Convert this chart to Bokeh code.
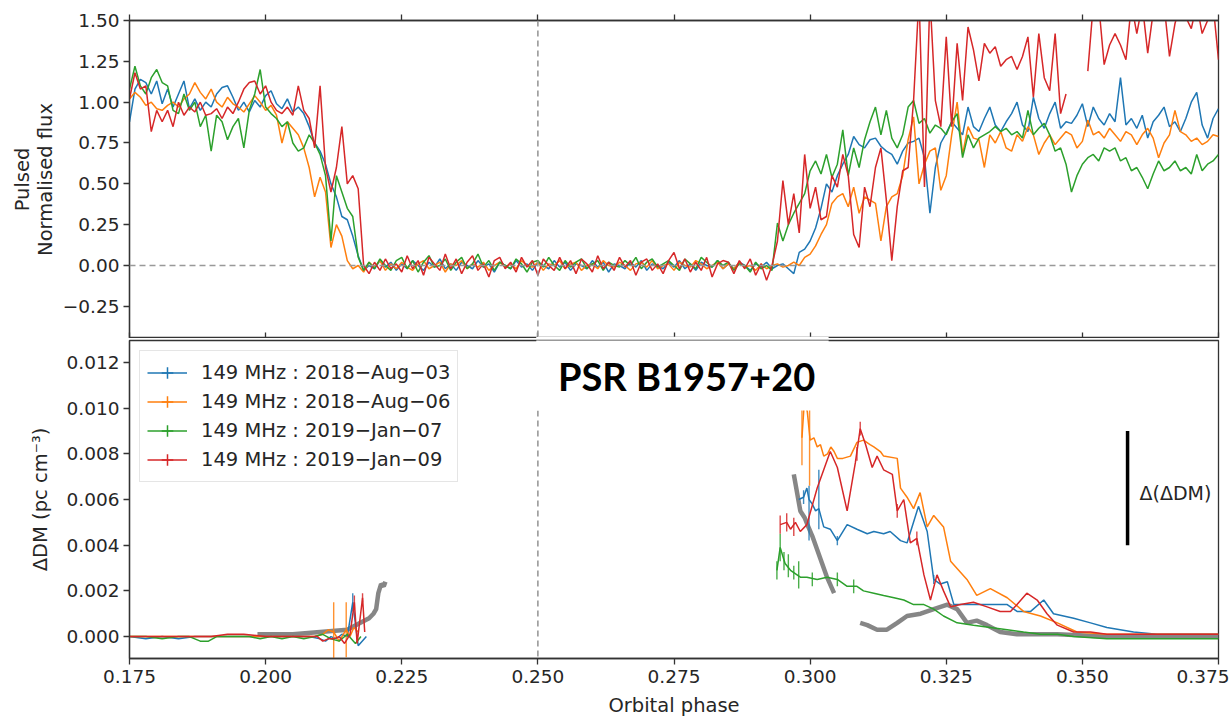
import math
import numpy as np
from bokeh.plotting import figure
from bokeh.layouts import column
from bokeh.models import (Range1d, Span, Label, FixedTicker, LinearAxis,
                          Legend, LegendItem, BoxAnnotation)
from bokeh.embed import file_html
from bokeh.resources import INLINE

nan = float("nan")

# ---------------- data ----------------
PHASE_START = 0.175
PHASE_STEP = 0.001

flux_blue = [
    0.88, 1.08, 1.14, 1.12, 1.05, 1.13, 0.99, 1.08, 0.97, 1.05,
    1.13, 0.96, 1.02, 0.95, 1.00, 0.97, 1.05, 1.09, 1.10, 1.03,
    0.95, 1.00, 0.94, 1.01, 0.97, 1.04, 1.07, 0.99, 0.96, 1.02,
    0.94, 0.97, 0.93, 0.85, 0.75, 0.70, 0.62, 0.50, 0.42, 0.30,
    0.28, 0.18, 0.06, -0.03, 0.00, -0.02, 0.03, -0.01, 0.02, -0.03,
    0.01, -0.02, 0.03, 0.00, -0.03, 0.02, -0.01, 0.04, -0.02, 0.01,
    -0.03, 0.02, 0.00, -0.02, 0.03, -0.01, 0.01, -0.04, 0.02, 0.00,
    -0.02, 0.03, -0.01, 0.01, -0.03, 0.02, 0.00, -0.02, 0.03, -0.01,
    0.02, -0.03, 0.01, 0.00, -0.02, 0.03, -0.01, 0.02, -0.04, 0.01,
    0.00, -0.02, 0.02, -0.01, 0.03, -0.03, 0.01, 0.00, -0.02, 0.02,
    -0.01, 0.03, -0.02, 0.01, -0.03, 0.02, 0.00, -0.01, 0.03, -0.02,
    0.01, -0.02, 0.02, 0.00, -0.03, 0.01, -0.01, 0.02, -0.02, 0.00,
    0.01, -0.02, -0.05, 0.08, 0.10, 0.15, 0.23, 0.35, 0.50, 0.45,
    0.55, 0.62, 0.68, 0.79, 0.74, 0.72, 0.77, 0.78, 0.73, 0.70,
    0.68, 0.62, 0.70, 0.75, 0.76, 0.78, 0.66, 0.32, 0.60, 0.75,
    0.81, 0.88, 0.84, 0.80, 0.97, 0.85, 0.82, 0.90, 0.97, 0.86,
    0.82, 0.88, 0.93, 1.00, 0.86, 0.82, 1.03, 0.90, 0.84, 0.93,
    1.00, 0.84, 0.88, 0.87, 0.92, 0.99, 0.85, 0.97, 0.90, 0.86,
    0.93, 0.88, 1.15, 0.86, 0.90, 0.84, 0.92, 0.78, 0.88, 0.92,
    0.97, 0.85, 0.88, 0.82, 0.90, 1.00, 1.06, 0.86, 0.78, 0.90,
    0.96]

flux_orange = [
    1.02, 1.06, 1.03, 0.98, 1.00, 0.96, 0.95, 0.98, 1.00, 0.97,
    1.02, 1.05, 1.12, 1.06, 1.02, 1.08, 1.00, 0.97, 1.03, 0.99,
    0.97, 0.94, 0.99, 1.04, 1.00, 0.95, 0.98, 0.92, 0.75, 0.88,
    0.84, 0.80, 0.72, 0.60, 0.42, 0.54, 0.45, 0.11, 0.25, 0.18,
    0.03, -0.02, 0.00, -0.04, 0.02, -0.01, 0.03, -0.03, 0.01, -0.02,
    0.02, -0.01, -0.03, 0.01, 0.03, -0.02, 0.00, 0.02, -0.04, 0.01,
    0.00, 0.03, -0.02, 0.01, -0.01, 0.02, -0.03, 0.00, 0.02, -0.01,
    0.01, -0.02, 0.03, 0.00, -0.01, 0.02, -0.03, 0.01, 0.00, 0.03,
    -0.02, 0.01, 0.02, -0.03, 0.00, 0.01, -0.02, 0.03, 0.00, -0.01,
    0.02, 0.00, -0.03, 0.01, 0.02, -0.01, 0.03, -0.02, 0.00, 0.01,
    -0.03, 0.02, 0.00, -0.01, 0.03, 0.01, -0.02, 0.00, 0.02, -0.02,
    0.01, -0.02, 0.02, -0.01, 0.00, -0.03, 0.01, -0.02, 0.00, 0.01,
    -0.01, 0.00, 0.02, 0.00, 0.05, 0.07, 0.12, 0.19, 0.25, 0.38,
    0.42, 0.44, 0.36, 0.48, 0.32, 0.42, 0.40, 0.38, 0.15, 0.36,
    0.42, 0.44, 0.55, 0.77, 0.91, 0.50, 0.62, 0.70, 0.72, 0.46,
    0.55, 0.80, 1.00, 0.68, 0.85, 0.78, 0.77, 0.60, 0.80, 0.75,
    0.82, 0.72, 0.70, 0.80, 0.76, 0.85, 0.80, 0.68, 0.75, 0.80,
    0.74, 0.78, 0.82, 0.80, 0.72, 0.76, 0.89, 0.80, 0.82, 0.78,
    0.84, 0.80, 0.76, 0.82, 0.80, 0.74, 0.80, 0.84, 0.78, 0.66,
    0.75, 0.80, 0.95, 0.82, 0.80, 0.76, 0.78, 0.74, 0.76, 0.80,
    0.79]

flux_green = [
    1.08, 1.22, 1.10, 1.05, 1.15, 1.20, 1.12, 1.10, 0.95, 0.93,
    1.05, 0.95, 1.00, 0.85, 0.92, 0.70, 0.92, 0.88, 0.77, 0.85,
    0.90, 0.72, 0.95, 1.05, 1.20, 0.97, 0.93, 0.90, 0.85, 0.88,
    0.75, 0.70, 0.72, 0.80, 0.75, 0.68, 0.55, 0.15, 0.55, 0.45,
    0.35, 0.30, 0.05, -0.03, 0.02, -0.02, 0.04, 0.00, -0.03, 0.03,
    0.05, -0.02, 0.03, -0.04, 0.02, 0.06, -0.01, 0.00, 0.04, -0.03,
    0.02, 0.05, -0.02, 0.01, 0.07, -0.01, 0.03, -0.03, 0.02, 0.00,
    -0.02, 0.04, 0.01, -0.04, 0.02, 0.03, -0.01, 0.05, 0.00, -0.03,
    0.03, -0.01, 0.02, 0.04, -0.02, 0.01, 0.03, -0.03, 0.02, 0.00,
    -0.01, 0.03, 0.00, 0.05, -0.02, 0.02, 0.04, -0.01, 0.01, 0.03,
    0.00, -0.03, 0.04, 0.01, -0.02, 0.05, 0.02, -0.01, 0.03, 0.00,
    0.02, -0.03, 0.01, 0.00, -0.04, 0.02, -0.02, 0.00, -0.03, 0.26,
    0.15, 0.25, 0.32, 0.38, 0.44, 0.58, 0.64, 0.56, 0.68, 0.54,
    0.62, 0.83, 0.55, 0.72, 0.60, 0.77, 0.88, 0.97, 0.80, 0.95,
    0.78, 0.72, 0.80, 0.97, 1.01, 0.87, 0.90, 0.81, 0.86, 0.84,
    0.80, 0.88, 0.93, 0.66, 0.80, 0.72, 0.78, 0.80, 0.82, 0.85,
    0.82, 0.84, 0.80, 0.82, 0.78, 0.95, 0.80, 0.84, 0.87, 0.80,
    0.70, 0.72, 0.62, 0.45, 0.55, 0.62, 0.66, 0.68, 0.64, 0.72,
    0.70, 0.72, 0.64, 0.66, 0.58, 0.60, 0.54, 0.47, 0.56, 0.64,
    0.58, 0.60, 0.64, 0.58, 0.60, 0.56, 0.68, 0.58, 0.62, 0.64,
    0.68]

flux_red = [
    1.02, 1.18, 1.08, 1.10, 0.82, 0.95, 0.88, 0.95, 0.85, 1.00,
    0.92, 0.97, 0.94, 1.00, 0.92, 0.93, 0.96, 0.90, 0.97, 0.93,
    1.00, 1.08, 1.12, 1.13, 1.05, 1.10, 1.00, 0.95, 0.93, 0.97,
    0.92, 1.10, 0.95, 0.90, 0.72, 1.10, 0.60, 0.45, 0.60, 0.85,
    0.50, 0.55, 0.47, 0.00, -0.05, 0.02, -0.03, 0.04, -0.02, 0.01,
    -0.04, 0.06, -0.02, 0.03, -0.06, 0.05, 0.01, -0.03, 0.07, -0.02,
    0.04, -0.05, 0.02, 0.06, -0.03, 0.01, -0.07, 0.03, 0.05, -0.02,
    0.02, -0.04, 0.05, -0.01, 0.03, -0.06, 0.04, 0.00, -0.03, 0.05,
    -0.02, 0.03, -0.05, 0.04, 0.01, -0.04, 0.06, -0.02, 0.02, -0.03,
    0.05, -0.01, 0.03, -0.06, 0.02, 0.04, -0.03, 0.01, -0.05, 0.03,
    0.08, -0.02, 0.04, -0.04, 0.02, -0.03, 0.05, -0.07, 0.01, 0.03,
    0.02, -0.05, 0.03, -0.02, 0.04, -0.06, 0.01, -0.09, 0.00, 0.15,
    0.52, 0.25, 0.44, 0.20, 0.68, 0.35, 0.48, 0.28, 0.30, 0.55,
    0.48, 0.68, 0.55, 0.19, 0.11, 0.48, 0.36, 0.60, 0.72, 0.40,
    0.03, 0.36, 0.58, 0.60, 1.01, 1.65, 0.48, 1.65, 1.01, 0.85,
    1.40, 0.85, 1.36, 1.01, 1.46, 1.32, 1.13, 1.36, 1.30, 1.34,
    1.22, 1.26, 1.28, 1.20, 1.28, 1.40, 1.03, 1.42, 1.15, 1.07,
    1.42, 0.93, 1.05, nan, nan, nan, 1.19, 1.60, 1.60, 1.23,
    1.35, 1.42, 1.35, 1.26, 1.60, 1.42, 1.60, 1.30, 1.55, 1.60,
    1.60, 1.28, 1.48, 1.60, 1.52, 1.45, 1.60, 1.42, 1.50, 1.60,
    1.26]

# Delta DM (pc cm^-3): ingress part, nan break, egress part
dm_blue_x = [0.175, 0.178, 0.181, 0.184, 0.187, 0.190, 0.193, 0.196, 0.199, 0.202,
             0.205, 0.208, 0.210, 0.211, 0.212, 0.213, 0.214, 0.215, 0.216, 0.217,
             0.2185, nan,
             0.2979, 0.2988, 0.2994, 0.2998, 0.3004, 0.3010, 0.3016, 0.3025, 0.3037, 0.3050,
             0.3068, 0.3086, 0.3105, 0.3117, 0.3135, 0.3147, 0.3166, 0.3178, 0.3199, 0.3215,
             0.3227, 0.3239, 0.3252, 0.3264, 0.3276, 0.3300, 0.3331, 0.3362, 0.3380, 0.3405,
             0.3429, 0.3447, 0.3484, 0.3515, 0.3545, 0.3594, 0.3637, 0.3700, 0.3750]
dm_blue_y = [0.0000, -0.0001, 0.0000, -0.0001, 0.0000, 0.0000, 0.0000, 0.0000, 0.0000, 0.0000,
             0.0000, 0.0000, -0.0001, -0.0002, 0.0000, -0.0001, 0.0001, 0.0000, 0.0015, -0.0004,
             0.0000, nan,
             0.0060, 0.0061, 0.0065, 0.0060, 0.0058, 0.0055, 0.0056, 0.0048, 0.0047, 0.0042,
             0.0049, 0.0047, 0.0045, 0.0046, 0.0045, 0.0046, 0.0042, 0.0041, 0.0057, 0.0046,
             0.0025, 0.0023, 0.0024, 0.0014, 0.0014, 0.0014, 0.0014, 0.0014, 0.0011, 0.0011,
             0.0016, 0.0010, 0.0008, 0.0006, 0.0004, 0.0002, 0.0001, 0.0001, 0.0001]
eb_blue_x = [0.2160, 0.2988, 0.2998, 0.3016, 0.3050, 0.3227]
eb_blue_y = [0.0015, 0.0061, 0.0054, 0.0060, 0.0042, 0.0025]
eb_blue_e = [0.0004, 0.0003, 0.0012, 0.0013, 0.0002, 0.0002]

dm_orange_x = [0.175, 0.180, 0.185, 0.190, 0.195, 0.200, 0.205, 0.209, 0.2105, 0.2115,
               0.2125, 0.2135, 0.2148, 0.2155, 0.2162, 0.217, nan,
               0.2985, 0.2990, 0.2995, 0.3000, 0.3007, 0.3013, 0.3019, 0.3025, 0.3032, 0.3038,
               0.3044, 0.3050, 0.3060, 0.3074, 0.3086, 0.3098, 0.3110, 0.3117, 0.3129, 0.3135,
               0.3160, 0.3166, 0.3178, 0.3190, 0.3202, 0.3215, 0.3227, 0.3245, 0.3258, 0.3288,
               0.3306, 0.3331, 0.3362, 0.3392, 0.3423, 0.3454, 0.3490, 0.3545, 0.3600, 0.3650,
               0.3700, 0.3750]
dm_orange_y = [0.0, 0.0, 0.0, 0.0, 0.0, 0.0, 0.0, 0.0, 0.0001, 0.0003,
               0.0002, -0.0002, 0.0003, 0.0000, 0.0004, 0.0002, nan,
               0.0087, 0.0105, 0.0098, 0.0086, 0.0087, 0.0083, 0.0084, 0.0079, 0.0080, 0.0083,
               0.0081, 0.0078, 0.0078, 0.0079, 0.0085, 0.0086, 0.0084, 0.0083, 0.0081, 0.0079,
               0.0078, 0.0065, 0.0061, 0.0056, 0.0063, 0.0048, 0.0053, 0.0048, 0.0033, 0.0025,
               0.0018, 0.0021, 0.0017, 0.0011, 0.0009, 0.0006, 0.0002, 0.0001, 0.0001, 0.0001,
               0.0001, 0.0001]
eb_orange_x = [0.2125, 0.2148, 0.2985, 0.2999]
eb_orange_y = [0.0002, 0.0003, 0.0090, 0.0087]
eb_orange_e = [0.0013, 0.0012, 0.0015, 0.0021]

dm_green_x = [0.175, 0.178, 0.181, 0.184, 0.186, 0.188, 0.1895, 0.191, 0.193, 0.195,
              0.197, 0.199, 0.201, 0.203, 0.205, 0.207, 0.209, 0.2105, 0.212, 0.2135,
              0.215, 0.2165, 0.2175, nan,
              0.2939, 0.2945, 0.2954, 0.2964, 0.2982, 0.2994, 0.3013, 0.3031, 0.3050, 0.3068,
              0.3086, 0.3098, 0.3117, 0.3135, 0.3154, 0.3172, 0.3190, 0.3209, 0.3227, 0.3245,
              0.3270, 0.3300, 0.3331, 0.3362, 0.3392, 0.3423, 0.3454, 0.3484, 0.3545, 0.3600,
              0.3650, 0.3750]
dm_green_y = [0.0000, 0.0000, -0.0001, 0.0000, 0.0000, -0.0002, -0.0002, 0.0000, 0.0000, 0.0000,
              0.0000, -0.0001, 0.0000, -0.0001, 0.0000, -0.0001, 0.0000, 0.0001, -0.0001, -0.0002,
              0.0001, -0.0003, 0.0000, nan,
              0.0029, 0.0039, 0.0032, 0.0029, 0.0026, 0.0026, 0.0025, 0.0026, 0.0025, 0.0022,
              0.0022, 0.0020, 0.0019, 0.0018, 0.0017, 0.0016, 0.0014, 0.0014, 0.0012, 0.0009,
              0.0006, 0.0005, 0.0004, 0.0003, 0.0002, 0.0001, 0.0001, 0.0000, -0.0001, -0.0001,
              -0.0001, -0.0001]
eb_green_x = [0.2939, 0.2945, 0.2952, 0.2960, 0.2970, 0.2979, 0.3004, 0.3050, 0.3080]
eb_green_y = [0.0029, 0.0039, 0.0033, 0.0031, 0.0028, 0.0027, 0.0025, 0.0025, 0.0022]
eb_green_e = [0.0004, 0.0006, 0.0004, 0.0005, 0.0003, 0.0006, 0.0003, 0.0003, 0.0003]

dm_red_x = [0.175, 0.180, 0.185, 0.190, 0.193, 0.194, 0.196, 0.200, 0.205, 0.2095,
            0.2105, 0.2115, 0.2125, 0.2135, 0.2145, 0.2155, 0.2163, 0.2168, 0.2178, 0.2182, nan,
            0.2945, 0.2957, 0.2964, 0.2973, 0.2982, 0.2994, 0.3013, 0.3025, 0.3037, 0.3050,
            0.3068, 0.3083, 0.3092, 0.3102, 0.3114, 0.3123, 0.3135, 0.3151, 0.3160, 0.3172,
            0.3184, 0.3196, 0.3209, 0.3221, 0.3233, 0.3245, 0.3258, 0.3276, 0.3300, 0.3325,
            0.3349, 0.3368, 0.3380, 0.3398, 0.3417, 0.3435, 0.3454, 0.3484, 0.3515, 0.3545,
            0.3600, 0.3750]
dm_red_y = [0.0, 0.0, 0.0, 0.0, 0.0001, 0.0001, 0.0001, 0.0, 0.0, 0.0,
            -0.0002, -0.0001, -0.0001, 0.0000, -0.0003, 0.0001, 0.0015, -0.0003, 0.0017, 0.0002, nan,
            0.0049, 0.0050, 0.0047, 0.0050, 0.0046, 0.0049, 0.0065, 0.0073, 0.0081, 0.0074,
            0.0055, 0.0076, 0.0091, 0.0084, 0.0074, 0.0079, 0.0073, 0.0071, 0.0055, 0.0060,
            0.0041, 0.0043, 0.0027, 0.0016, 0.0027, 0.0020, 0.0013, 0.0014, 0.0015, 0.0013,
            0.0011, 0.0011, 0.0014, 0.0019, 0.0016, 0.0010, 0.0005, 0.0002, 0.0002, 0.0001,
            0.0001, 0.0001]
eb_red_x = [0.2163, 0.2178, 0.2945, 0.2957, 0.2970, 0.3086, 0.3092, 0.3160, 0.3196]
eb_red_y = [0.0015, 0.0017, 0.0049, 0.0050, 0.0048, 0.0080, 0.0091, 0.0055, 0.0043]
eb_red_e = [0.0003, 0.0002, 0.0004, 0.0004, 0.0004, 0.0003, 0.0003, 0.0003, 0.0003]

model_x = [0.1985, 0.2050, 0.2100, 0.2150, 0.2174, 0.2190, 0.2198, 0.2203, 0.2207, 0.2212,
           0.2217, 0.2220, nan,
           0.2970, 0.2976, 0.2982, 0.2990, 0.2995, 0.3004, 0.3013, 0.3022, 0.3031, 0.3044, nan,
           0.3092, 0.3105, 0.3123, 0.3141, 0.3160, 0.3178, 0.3203, 0.3227, 0.3252, 0.3270,
           0.3288, 0.3306, 0.3325, 0.3349, 0.3380, 0.3411, 0.3454, 0.3545, 0.3750]
model_y = [0.0001, 0.0001, 0.0002, 0.0003, 0.0006, 0.0008, 0.0010, 0.0012, 0.0019, 0.0023,
           0.0022, 0.0024, nan,
           0.0071, 0.0063, 0.0055, 0.0052, 0.0049, 0.0044, 0.0038, 0.0032, 0.0026, 0.0019, nan,
           0.0006, 0.0005, 0.0003, 0.0003, 0.0006, 0.0009, 0.0010, 0.0012, 0.0014, 0.0012,
           0.0006, 0.0007, 0.0005, 0.0002, 0.0001, 0.0001, 0.0001, 0.0000, 0.0000]

series_labels = ["149 MHz : 2018\u2212Aug\u221203", "149 MHz : 2018\u2212Aug\u221206",
                 "149 MHz : 2019\u2212Jan\u221207", "149 MHz : 2019\u2212Jan\u221209"]
series_colors = ["#1f77b4", "#ff7f0e", "#2ca02c", "#d62728"]

x_ticks = [0.175, 0.2, 0.225, 0.25, 0.275, 0.3, 0.325, 0.35, 0.375]
x_tick_labels = ["0.175", "0.200", "0.225", "0.250", "0.275", "0.300", "0.325", "0.350", "0.375"]
flux_ticks = [-0.25, 0.0, 0.25, 0.5, 0.75, 1.0, 1.25, 1.5]
flux_tick_labels = ["\u22120.25", "0.00", "0.25", "0.50", "0.75", "1.00", "1.25", "1.50"]
dm_ticks = [0.0, 0.002, 0.004, 0.006, 0.008, 0.010, 0.012]
dm_tick_labels = ["0.000", "0.002", "0.004", "0.006", "0.008", "0.010", "0.012"]

ECLIPSE_CENTRE = 0.25
DDM_BAR_PHASE = 0.3583
DDM_BAR_LOW = 0.0040
DDM_BAR_HIGH = 0.0090
DDM_TEXT_Y = 0.0063
TITLE_Y = 0.01140
TITLE_BOX_RIGHT = 0.3034
TITLE_BOX_BOTTOM = 0.0099

# ---------------- styling helpers ----------------
FONT = "DejaVu Sans"
TXT = "#262626"
AX = "#333333"
TICK_SIZE = "18.5px"
LABEL_SIZE = "19.5px"


def style_axis(ax):
    ax.major_label_text_font = FONT
    ax.major_label_text_font_size = TICK_SIZE
    ax.major_label_text_color = TXT
    ax.major_label_standoff = 4
    ax.axis_line_color = AX
    ax.axis_line_width = 1.3
    ax.major_tick_line_color = AX
    ax.major_tick_line_width = 1.3
    ax.major_tick_out = 6
    ax.major_tick_in = 0
    ax.minor_tick_line_color = None
    ax.axis_label_text_font = FONT
    ax.axis_label_text_font_size = LABEL_SIZE
    ax.axis_label_text_font_style = "normal"
    ax.axis_label_text_color = TXT
    ax.axis_label_text_line_height = 1.0


def hide_labels(ax):
    ax.major_label_text_color = None
    ax.major_label_text_font_size = "1px"
    ax.major_label_standoff = 0


x_range = Range1d(0.175, 0.375)

# ---------------- top panel ----------------
p1 = figure(frame_width=1089, frame_height=318, x_range=x_range,
            y_range=Range1d(-0.447, 1.5), output_backend="svg",
            toolbar_location=None, x_axis_location="above",
            min_border_left=129, min_border_right=11, min_border_top=20,
            min_border_bottom=0)
p1.grid.visible = False
p1.outline_line_color = AX
p1.outline_line_width = 1.3
for ax in p1.xaxis:
    style_axis(ax)
    ax.ticker = FixedTicker(ticks=x_ticks)
    hide_labels(ax)
style_axis(p1.yaxis[0])
p1.yaxis[0].ticker = FixedTicker(ticks=flux_ticks)
p1.yaxis[0].major_label_overrides = dict(zip(flux_ticks, flux_tick_labels))
p1.yaxis[0].axis_label = "Pulsed\nNormalised flux"
p1.yaxis[0].axis_label_standoff = 3

bottom_ticks = LinearAxis(ticker=FixedTicker(ticks=x_ticks))
style_axis(bottom_ticks)
hide_labels(bottom_ticks)
bottom_ticks.major_tick_out = 0
bottom_ticks.major_tick_in = 6
bottom_ticks.axis_line_color = None
p1.add_layout(bottom_ticks, "below")

p1.add_layout(Span(location=0.0, dimension="width", line_color="#999999",
                   line_width=1.6, line_dash="6 4"))
p1.add_layout(Span(location=ECLIPSE_CENTRE, dimension="height", line_color="#999999",
                   line_width=1.6, line_dash="6 4"))

for vals, col in zip([flux_blue, flux_orange, flux_green, flux_red], series_colors):
    xs = PHASE_START + PHASE_STEP * np.arange(len(vals))
    p1.line(xs, np.array(vals, dtype=float), line_color=col, line_width=1.5)

# white patch hiding the panel seam behind the title
p1.add_layout(BoxAnnotation(left=ECLIPSE_CENTRE - 0.0003, right=TITLE_BOX_RIGHT,
                            bottom=-0.47, top=-0.437, fill_color="white", fill_alpha=1.0,
                            line_color=None, level="overlay"))

# ---------------- bottom panel ----------------
p2 = figure(frame_width=1089, frame_height=318, x_range=x_range,
            y_range=Range1d(-0.00096, 0.01296), output_backend="svg",
            toolbar_location=None,
            min_border_left=129, min_border_right=11, min_border_top=2,
            min_border_bottom=0)
p2.grid.visible = False
p2.outline_line_color = AX
p2.outline_line_width = 1.3
style_axis(p2.xaxis[0])
p2.xaxis[0].ticker = FixedTicker(ticks=x_ticks)
p2.xaxis[0].major_label_overrides = dict(zip(x_ticks, x_tick_labels))
p2.xaxis[0].axis_label = "Orbital phase"
p2.xaxis[0].axis_label_standoff = 8
p2.xaxis[0].major_label_standoff = 5
style_axis(p2.yaxis[0])
p2.yaxis[0].ticker = FixedTicker(ticks=dm_ticks)
p2.yaxis[0].major_label_overrides = dict(zip(dm_ticks, dm_tick_labels))
p2.yaxis[0].axis_label = "\u0394DM (pc cm\u207b\u00b3)"
p2.yaxis[0].axis_label_standoff = 12

p2.add_layout(Span(location=ECLIPSE_CENTRE, dimension="height", line_color="#999999",
                   line_width=1.6, line_dash="6 4"))

p2.line(np.array(model_x, dtype=float), np.array(model_y, dtype=float),
        line_color="#808080", line_width=4.5, line_alpha=0.95)

legend_items = []
dm_sets = [(dm_blue_x, dm_blue_y, eb_blue_x, eb_blue_y, eb_blue_e),
           (dm_orange_x, dm_orange_y, eb_orange_x, eb_orange_y, eb_orange_e),
           (dm_green_x, dm_green_y, eb_green_x, eb_green_y, eb_green_e),
           (dm_red_x, dm_red_y, eb_red_x, eb_red_y, eb_red_e)]
for (dx, dy, ex, ey, ee), col, lab in zip(dm_sets, series_colors, series_labels):
    dx = np.array(dx, dtype=float)
    dy = np.array(dy, dtype=float)
    ex = np.array(ex, dtype=float)
    ey = np.array(ey, dtype=float)
    ee = np.array(ee, dtype=float)
    lr = p2.line(dx, dy, line_color=col, line_width=1.5)
    p2.segment(x0=ex, y0=ey - ee, x1=ex, y1=ey + ee, line_color=col,
               line_width=1.4, line_alpha=0.85)
    mk = p2.scatter(x=[nan], y=[nan], marker="cross", size=24,
                    line_color=col, line_width=1.5, fill_color=None)
    legend_items.append(LegendItem(label=lab, renderers=[lr, mk]))

legend = Legend(items=legend_items, location="top_left")
legend.label_text_font = FONT
legend.label_text_font_size = "19.5px"
legend.label_text_color = TXT
legend.glyph_width = 40
legend.glyph_height = 29
legend.label_height = 29
legend.spacing = 0
legend.padding = 7
legend.margin = 10
legend.label_standoff = 14
legend.border_line_color = "#cccccc"
legend.border_line_width = 1.5
legend.background_fill_alpha = 0.85
p2.add_layout(legend)

# scale bar
p2.segment(x0=[DDM_BAR_PHASE], y0=[DDM_BAR_LOW], x1=[DDM_BAR_PHASE], y1=[DDM_BAR_HIGH],
           line_color="black", line_width=3.5)
p2.add_layout(Label(x=DDM_BAR_PHASE, y=DDM_TEXT_Y, x_offset=12, text="\u0394(\u0394DM)",
                    text_font=FONT, text_font_size="19px", text_color=TXT,
                    text_baseline="middle"))

# title box
p2.add_layout(BoxAnnotation(left=ECLIPSE_CENTRE - 0.0003, right=TITLE_BOX_RIGHT,
                            bottom=TITLE_BOX_BOTTOM, top=0.0140, fill_color="white",
                            fill_alpha=1.0, line_color=None, level="overlay"))
p2.add_layout(Label(x=ECLIPSE_CENTRE, y=TITLE_Y, x_offset=20, text="PSR B1957+20",
                    text_font="Lato", text_font_style="bold", text_font_size="38px",
                    text_color="black", text_baseline="middle", level="overlay"))

layout = column(p1, p2)
open("out.html", "w").write(file_html(layout, INLINE))
